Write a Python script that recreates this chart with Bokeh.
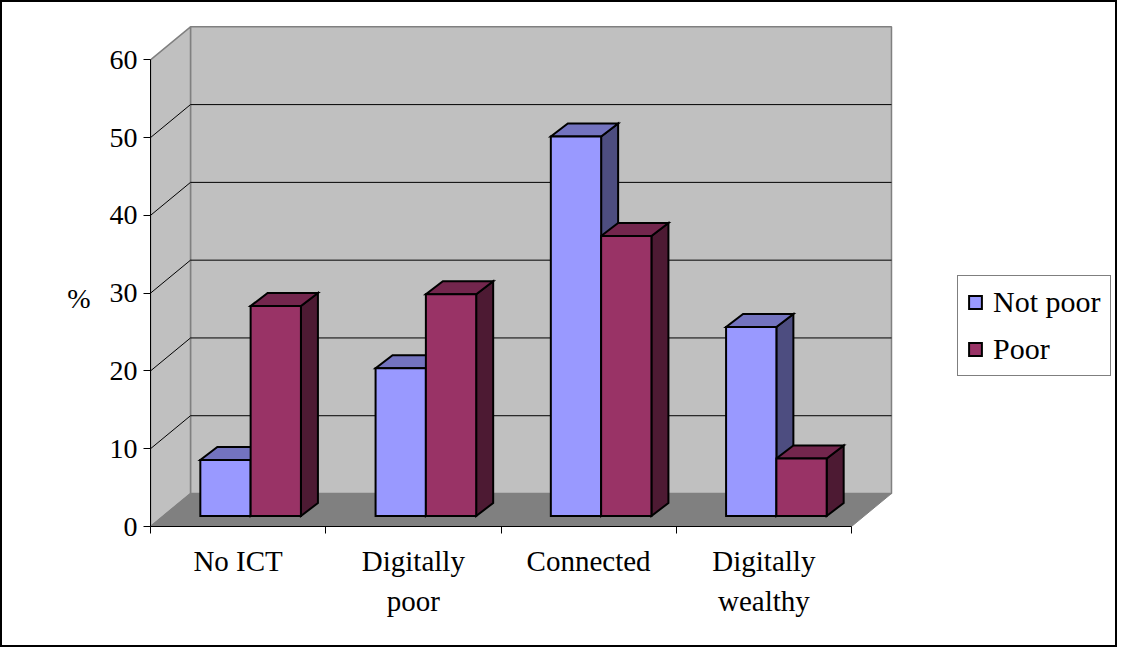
from bokeh.plotting import figure
from bokeh.models import Range1d, FixedTicker, Legend, LegendItem
from bokeh.embed import file_html
from bokeh.resources import INLINE

# ---- data -------------------------------------------------------------
categories = ["No ICT", "Digitally\npoor", "Connected", "Digitally\nwealthy"]
series_names = ["Not poor", "Poor"]
not_poor = [7.2, 19.0, 48.8, 24.3]
poor = [27.0, 28.5, 36.0, 7.4]
y_ticks = [0, 10, 20, 30, 40, 50, 60]
unit_label = "%"

# ---- styling ----------------------------------------------------------
FONT = "'Liberation Serif', 'Times New Roman', serif"
front_colors = ["#9999FF", "#993366"]
top_colors = ["#7373BF", "#73264D"]
side_colors = ["#4D4D80", "#4D1A33"]
WALL = "#C0C0C0"
FLOOR = "#808080"
EDGE = "#808080"

W, H = 1117, 647            # canvas size (plus a 2px page border)
LEFT, BOTTOM = 148, 123     # space reserved around the plotting frame
PX_PER_CAT = 175.25         # screen px per category slot
PX_PER_PCT = 7.778          # screen px per percentage point

frame_w = W - LEFT
frame_h = H - BOTTOM

n = len(categories)
y_max = y_ticks[-1]

# oblique depth of the chart box and of each bar, in data units
DX, DY = 40 / PX_PER_CAT, 33 / PX_PER_PCT
BDX, BDY = 17 / PX_PER_CAT, 13 / PX_PER_PCT
OFF_X, OFF_Y = 12.5 / PX_PER_CAT, 10.5 / PX_PER_PCT   # bars sit slightly back on the floor
BAR_W = 50.3 / PX_PER_CAT

p = figure(width=W, height=H, output_backend="svg", toolbar_location=None, title=None,
           x_range=Range1d(0, frame_w / PX_PER_CAT),
           y_range=Range1d(0, frame_h / PX_PER_PCT),
           min_border_left=LEFT, min_border_bottom=BOTTOM,
           min_border_top=0, min_border_right=0)
p.styles = {"border": "2px solid black"}
p.grid.visible = False
p.outline_line_color = None
p.background_fill_color = "white"
p.border_fill_color = "white"

# ---- walls, floor and gridlines --------------------------------------
p.patch([DX, DX + n, DX + n, DX], [DY, DY, y_max + DY, y_max + DY],
        fill_color=WALL, line_color=EDGE, line_width=1.5)
p.patch([0, DX, DX, 0], [0, DY, y_max + DY, y_max],
        fill_color=WALL, line_color=EDGE, line_width=1.5)
p.patch([0, n, n + DX, DX], [0, 0, DY, DY],
        fill_color=FLOOR, line_color=EDGE, line_width=1)

gx, gy = [], []
for v in y_ticks[1:-1]:
    gx.append([0, DX, DX + n])
    gy.append([v, v + DY, v + DY])
p.multi_line(gx, gy, line_color="black", line_width=1)

# ---- 3D bars ----------------------------------------------------------
values = [not_poor, poor]
side_xs, side_ys, side_c = [], [], []
top_xs, top_ys, top_c = [], [], []
fronts = []
for j, vals in enumerate(values):
    lefts, rights, bottoms, tops = [], [], [], []
    for i, v in enumerate(vals):
        x0 = i + 0.5 - BAR_W + OFF_X + j * BAR_W
        x1 = x0 + BAR_W
        y0 = OFF_Y
        y1 = OFF_Y + v
        side_xs.append([x1, x1, x1 + BDX, x1 + BDX])
        side_ys.append([y0, y1, y1 + BDY, y0 + BDY])
        side_c.append(side_colors[j])
        top_xs.append([x0, x1, x1 + BDX, x0 + BDX])
        top_ys.append([y1, y1, y1 + BDY, y1 + BDY])
        top_c.append(top_colors[j])
        lefts.append(x0); rights.append(x1); bottoms.append(y0); tops.append(y1)
    fronts.append((lefts, rights, bottoms, tops))

p.patches(side_xs, side_ys, fill_color=side_c, line_color="black", line_width=2, line_join="miter")
p.patches(top_xs, top_ys, fill_color=top_c, line_color="black", line_width=2, line_join="miter")

front_renderers = []
for j, (l, r, b, t) in enumerate(fronts):
    fr = p.quad(left=l, right=r, bottom=b, top=t, fill_color=front_colors[j],
                line_color="black", line_width=2, line_join="miter")
    front_renderers.append(fr)

# ---- axes ---------------------------------------------------------------
xa = p.xaxis[0]
xa.ticker = FixedTicker(ticks=[i + 0.5 for i in range(n)], minor_ticks=list(range(n + 1)))
xa.bounds = (0, n)
xa.major_label_overrides = {i + 0.5: lab for i, lab in enumerate(categories)}
xa.major_tick_out = 0
xa.major_tick_in = 0
xa.minor_tick_out = 7
xa.minor_tick_in = 0
xa.minor_tick_line_color = "black"
xa.axis_line_color = "black"
xa.major_label_standoff = 11
xa.major_label_text_font = FONT
xa.major_label_text_font_size = "29px"
xa.major_label_text_line_height = 1.25
xa.major_label_text_color = "black"

ya = p.yaxis[0]
ya.ticker = FixedTicker(ticks=y_ticks, minor_ticks=[])
ya.bounds = (0, y_max)
ya.major_tick_out = 7
ya.major_tick_in = 0
ya.minor_tick_out = 0
ya.minor_tick_in = 0
ya.major_tick_line_color = "black"
ya.axis_line_color = "black"
ya.major_label_standoff = 6
ya.major_label_text_font = FONT
ya.major_label_text_font_size = "28px"
ya.major_label_text_color = "black"
# the axis title is centred on the whole frame; two leading blank lines
# drop it down to the middle of the 0-60 scale
ya.axis_label = "\n\n" + unit_label
ya.axis_label_orientation = "horizontal"
ya.axis_label_standoff = 16
ya.axis_label_text_font = FONT
ya.axis_label_text_font_size = "28px"
ya.axis_label_text_line_height = 1.1
ya.axis_label_text_font_style = "normal"
ya.axis_label_text_color = "black"

# ---- legend -------------------------------------------------------------
legend = Legend(
    items=[LegendItem(label=name, renderers=[r]) for name, r in zip(series_names, front_renderers)],
    location=(807, 150),
    orientation="vertical",
    border_line_color="black", border_line_width=1,
    background_fill_color="white", background_fill_alpha=1,
    label_text_font=FONT, label_text_font_size="30px", label_text_color="black",
    glyph_width=16, glyph_height=16, padding=9, spacing=13, label_standoff=10, margin=0,
)
p.add_layout(legend)

open("out.html", "w").write(file_html(p, INLINE))
